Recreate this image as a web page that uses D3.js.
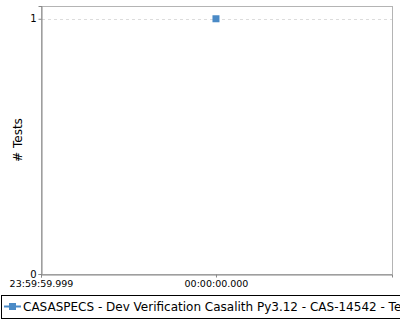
<!DOCTYPE html>
<html><head><meta charset="utf-8">
<script src="https://cdn.jsdelivr.net/npm/d3@7"></script>
<style>html,body{margin:0;padding:0;background:#fff;}svg{display:block;}</style>
</head><body>
<script>
const seriesName = "CASASPECS - Dev Verification Casalith Py3.12 - CAS-14542 - Test";
const timesMs = [0];          // ms offset from midnight
const testCounts = [1];
const xTickValues = [-1, 0];
const xTickLabels = ["23:59:59.999", "00:00:00.000"];
const yTickValues = [0, 1];
const xDomain = [-1, 1.006];
const yDomain = [0, 1.05];

const W = 400, H = 320;
const m = {l: 41, t: 6, r: 392, b: 274};
const svg = d3.select("body").append("svg").attr("width", W).attr("height", H);
const x = d3.scaleLinear().domain(xDomain).range([m.l, m.r]);
const y = d3.scaleLinear().domain(yDomain).range([m.b, m.t]);

// border
svg.append("rect").attr("x", m.l+0.5).attr("y", m.t+0.5).attr("width", m.r-m.l).attr("height", m.b-m.t)
  .attr("fill", "none").attr("stroke", "#b4b4b4");

// grid
svg.append("g").selectAll("line").data(yTickValues.filter(v => v > 0)).join("line")
  .attr("x1", m.l+1).attr("x2", m.r).attr("y1", d => Math.round(y(d))+0.5).attr("y2", d => Math.round(y(d))+0.5)
  .attr("stroke", "#dcdcdc").attr("stroke-dasharray", "3,3");

const font = "'DejaVu Sans', sans-serif";
const yAxis = svg.append("g").attr("transform", `translate(${m.l+0.5},0)`)
  .call(d3.axisLeft(y).tickValues(yTickValues).tickSize(3).tickFormat(d3.format("d")));
const xAxis = svg.append("g").attr("transform", `translate(0,${m.b+0.5})`)
  .call(d3.axisBottom(x).tickValues(xTickValues).tickSize(3).tickFormat((d,i) => xTickLabels[i]));
[yAxis, xAxis].forEach(a => {
  a.select(".domain").attr("stroke", "#888");
  a.selectAll(".tick line").attr("stroke", "#888");
  a.selectAll("text").attr("font-family", font).attr("font-size", 9.5).attr("fill", "#000");
});
yAxis.selectAll("text").attr("x", -5).attr("font-size", 10);
xAxis.selectAll("text").attr("dy", "0.71em").attr("y", 6);

svg.append("text").attr("transform", `translate(22,${(m.t+m.b)/2}) rotate(-90)`)
  .attr("text-anchor", "middle").attr("font-family", font).attr("font-size", 12).text("# Tests");

// points
svg.append("g").selectAll("rect").data(timesMs.map((t,i) => [t, testCounts[i]])).join("rect")
  .attr("x", d => x(d[0]) - 3.5).attr("y", d => y(d[1]) - 3.5).attr("width", 7).attr("height", 7)
  .attr("fill", "#4a8ac6");

// legend
const lg = svg.append("g");
lg.append("rect").attr("x", 1.5).attr("y", 295.5).attr("width", 420).attr("height", 23)
  .attr("fill", "#fff").attr("stroke", "#000");
lg.append("line").attr("x1", 4).attr("x2", 21).attr("y1", 306.5).attr("y2", 306.5).attr("stroke", "#4a8ac6").attr("stroke-width", 2);
lg.append("rect").attr("x", 9).attr("y", 303).attr("width", 7).attr("height", 7).attr("fill", "#4a8ac6");
lg.append("text").attr("x", 23).attr("y", 310.5).attr("font-family", font).attr("font-size", 12).text(seriesName);
</script>
</body></html>
